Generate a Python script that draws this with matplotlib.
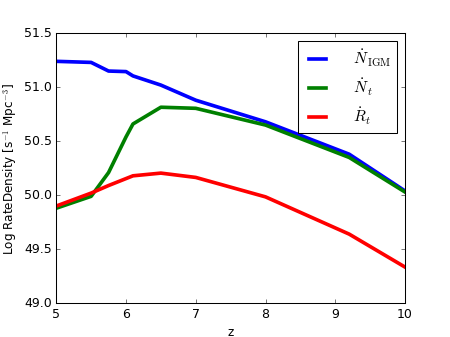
import matplotlib
matplotlib.use('Agg')
import matplotlib.pyplot as plt

plt.style.use('classic')
plt.rcParams['mathtext.fontset'] = 'cm'

# redshift grid and log rate densities
z_igm = [5.0, 5.5, 5.75, 6.0, 6.1, 6.5, 7.0, 8.0, 9.2, 10.0]
n_igm = [51.24, 51.23, 51.15, 51.145, 51.105, 51.02, 50.88, 50.68, 50.38, 50.04]

z_t = [5.0, 5.5, 5.75, 6.0, 6.1, 6.5, 7.0, 8.0, 9.2, 10.0]
n_t = [49.88, 49.99, 50.21, 50.54, 50.66, 50.815, 50.805, 50.65, 50.35, 50.03]

z_r = [5.0, 5.5, 5.75, 6.1, 6.5, 7.0, 8.0, 9.2, 10.0]
r_t = [49.90, 50.02, 50.09, 50.18, 50.205, 50.165, 49.985, 49.64, 49.335]

fig, ax = plt.subplots(figsize=(6, 4.5), dpi=75)
fig.patch.set_facecolor('white')

ax.plot(z_igm, n_igm, color='b', lw=3.5, label=r'$\dot N_{\rm IGM}$')
ax.plot(z_t, n_t, color='g', lw=3.5, label=r'$\dot N_t$')
ax.plot(z_r, r_t, color='r', lw=3.5, label=r'$\dot R_t$')

ax.set_xlim(5, 10)
ax.set_ylim(49.0, 51.5)
ax.set_xlabel('z', fontsize=11.5)
ax.set_ylabel(r'Log RateDensity [s$^{-1}$ Mpc$^{-3}$]', fontsize=11.5)
ax.legend(loc='upper right', fontsize=15, handlelength=1.7, handletextpad=1.4)

plt.savefig('out.png', dpi=75, facecolor='white')
